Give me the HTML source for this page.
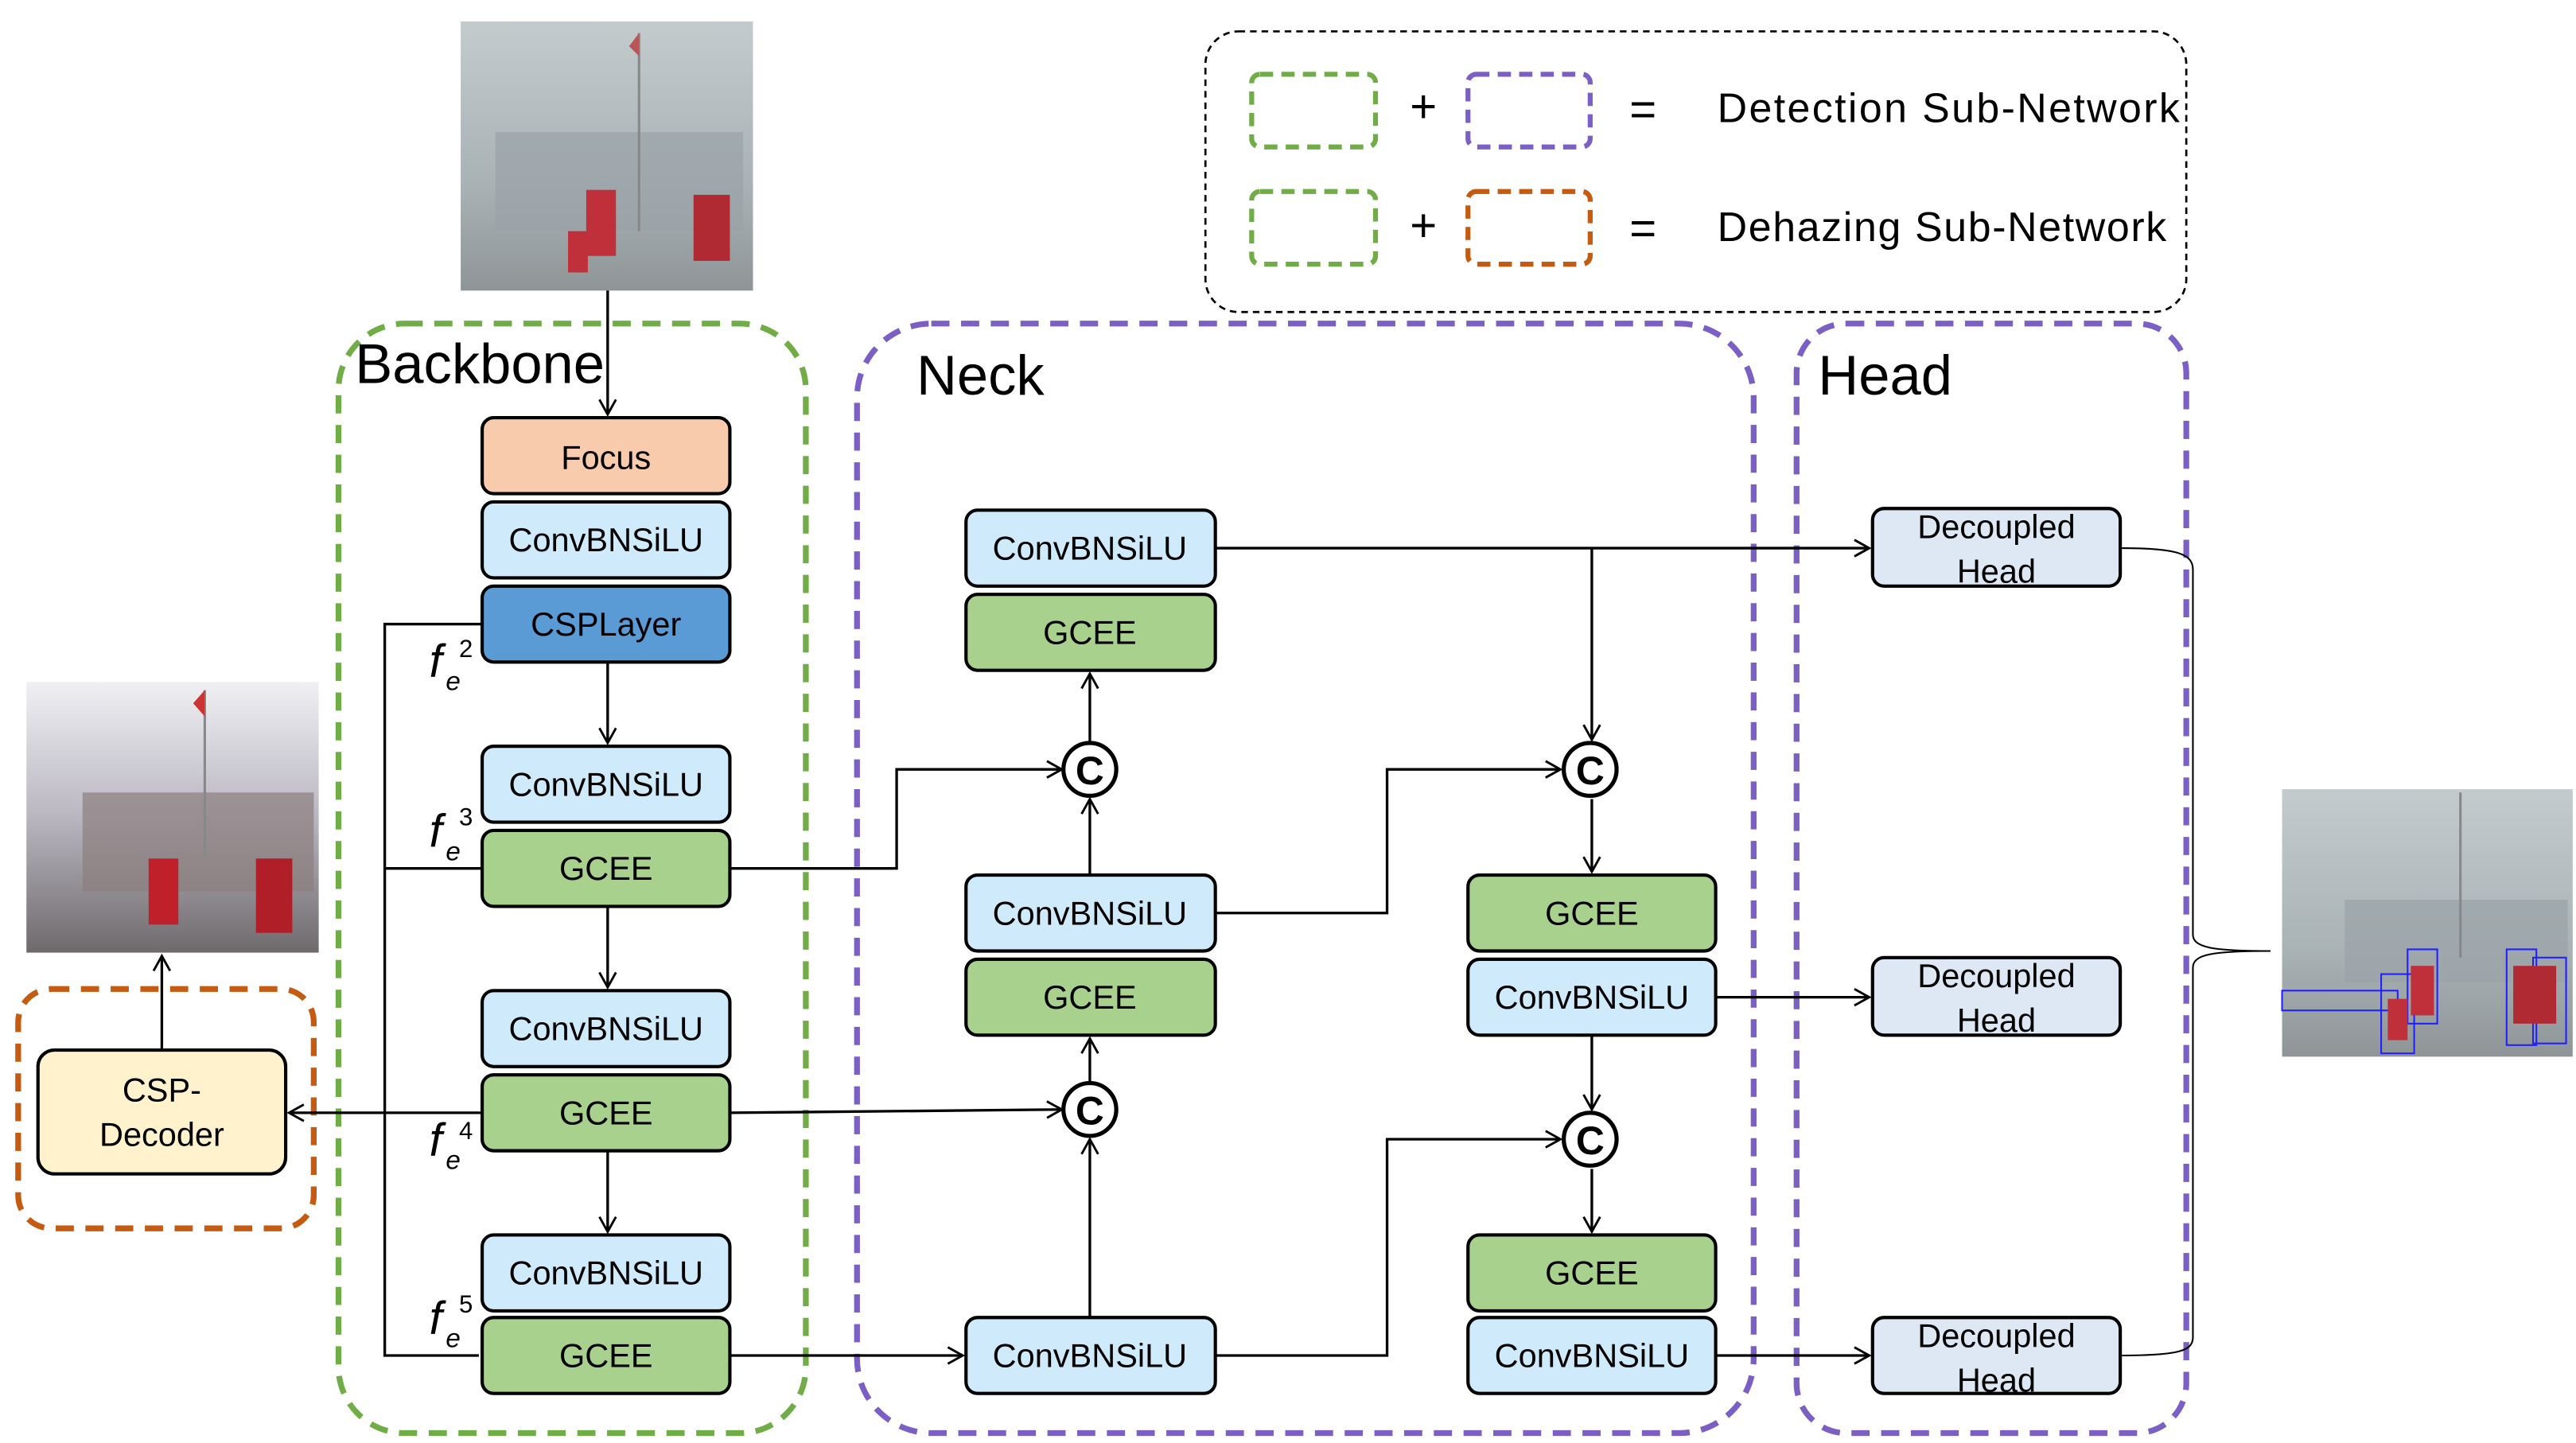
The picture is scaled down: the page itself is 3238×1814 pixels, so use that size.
<!DOCTYPE html>
<html><head><meta charset="utf-8"><style>
html,body{margin:0;padding:0;background:#fff;}
svg{display:block;}
text{font-family:"Liberation Sans",sans-serif;}
</style></head><body>
<svg width="3238" height="1814" viewBox="0 0 1560 874" preserveAspectRatio="none" xmlns="http://www.w3.org/2000/svg">
<defs>
<marker id="a" markerWidth="12" markerHeight="12" refX="10" refY="6" orient="auto" markerUnits="userSpaceOnUse">
<path d="M1,1 L10,6 L1,11" fill="none" stroke="#000" stroke-width="1.4"/></marker>
<linearGradient id="haze" x1="0" y1="0" x2="0" y2="1"><stop offset="0" stop-color="#c3cbcd"/><stop offset="0.6" stop-color="#a9b2b5"/><stop offset="1" stop-color="#8f9597"/></linearGradient>
<linearGradient id="clear" x1="0" y1="0" x2="0" y2="1"><stop offset="0" stop-color="#f0f0f4"/><stop offset="0.5" stop-color="#b9b6c0"/><stop offset="1" stop-color="#6e6a6c"/></linearGradient>
</defs>
<!-- top hazy image -->
<rect x="279" y="13" width="177" height="163" fill="url(#haze)"/>
<rect x="300" y="80" width="150" height="60" fill="#9aa3a6" opacity="0.7"/>
<line x1="387" y1="20" x2="387" y2="140" stroke="#888" stroke-width="1.5"/>
<path d="M387,20 L381,28 L387,34z" fill="#b55"/>
<rect x="355" y="115" width="18" height="40" fill="#c0303a"/><rect x="420" y="118" width="22" height="40" fill="#b02a33"/><rect x="344" y="140" width="12" height="25" fill="#c0303a"/>
<!-- legend -->
<rect x="730" y="19" width="594" height="170" rx="20" fill="none" stroke="#000" stroke-width="1.3" stroke-dasharray="4,3"/>
<g stroke-width="3" fill="none" stroke-dasharray="8,5">
<rect x="758" y="45" width="75" height="44" rx="5" stroke="#70ad47"/>
<rect x="889" y="45" width="74" height="44" rx="5" stroke="#7c5fc4"/>
<rect x="758" y="116" width="75" height="44" rx="5" stroke="#70ad47"/>
<rect x="889" y="116" width="74" height="44" rx="5" stroke="#c55a11"/>
</g>
<g font-size="28" text-anchor="middle" fill="#000"><text x="862" y="74">+</text><text x="862" y="146">+</text><text x="995" y="76">=</text><text x="995" y="148">=</text></g>
<text x="1040" y="74" font-size="25" textLength="280">Detection Sub-Network</text>
<text x="1040" y="146" font-size="25" textLength="272">Dehazing Sub-Network</text>
<!-- containers -->
<g fill="none" stroke-width="3.5" stroke-dasharray="11,7">
<rect x="205" y="196" width="283" height="672" rx="40" stroke="#70ad47"/>
<rect x="519" y="196" width="543" height="672" rx="45" stroke="#7c5fc4"/>
<rect x="1088" y="196" width="236" height="672" rx="30" stroke="#7c5fc4"/>
<rect x="11" y="599" width="179" height="145" rx="20" stroke="#c55a11"/>
</g>
<text x="215" y="232" font-size="34">Backbone</text>
<text x="555" y="239" font-size="34">Neck</text>
<text x="1101" y="239" font-size="34">Head</text>
<!-- connectors -->
<g stroke="#000" stroke-width="1.6" fill="none">
<line x1="368" y1="176" x2="368" y2="251" marker-end="url(#a)"/>
<line x1="368" y1="401" x2="368" y2="450" marker-end="url(#a)"/>
<line x1="368" y1="549" x2="368" y2="598" marker-end="url(#a)"/>
<line x1="368" y1="697" x2="368" y2="746" marker-end="url(#a)"/>
<polyline points="292,378 233,378 233,821 290,821"/>
<line x1="233" y1="526" x2="292" y2="526"/>
<line x1="292" y1="674" x2="175" y2="674" marker-end="url(#a)"/>
<line x1="98" y1="636" x2="98" y2="579" marker-end="url(#a)"/>
<polyline points="442,526 543,526 543,466 643,466" marker-end="url(#a)"/>
<line x1="442" y1="674" x2="643" y2="672" marker-end="url(#a)"/>
<line x1="442" y1="821" x2="583" y2="821" marker-end="url(#a)"/>
<line x1="660" y1="530" x2="660" y2="484" marker-end="url(#a)"/>
<line x1="660" y1="450" x2="660" y2="408" marker-end="url(#a)"/>
<line x1="660" y1="798" x2="660" y2="690" marker-end="url(#a)"/>
<line x1="660" y1="656" x2="660" y2="629" marker-end="url(#a)"/>
<line x1="736" y1="332" x2="1132" y2="332" marker-end="url(#a)"/>
<line x1="964" y1="332" x2="964" y2="448" marker-end="url(#a)"/>
<polyline points="736,553 840,553 840,466 945,466" marker-end="url(#a)"/>
<line x1="964" y1="484" x2="964" y2="528" marker-end="url(#a)"/>
<line x1="1039" y1="604" x2="1132" y2="604" marker-end="url(#a)"/>
<line x1="964" y1="627" x2="964" y2="672" marker-end="url(#a)"/>
<polyline points="736,821 840,821 840,690 945,690" marker-end="url(#a)"/>
<line x1="964" y1="708" x2="964" y2="746" marker-end="url(#a)"/>
<line x1="1039" y1="821" x2="1132" y2="821" marker-end="url(#a)"/>
</g>
<!-- brace -->
<path d="M1285,332 C1320,332 1328,336 1328,345 L1328,566 C1328,574 1340,576 1375,576 C1340,576 1328,578 1328,586 L1328,810 C1328,818 1320,821 1285,821" fill="none" stroke="#000" stroke-width="1"/>
<!-- C circles -->
<g fill="#fff" stroke="#000" stroke-width="2.5">
<circle cx="660" cy="466" r="16"/><circle cx="660" cy="672" r="16"/><circle cx="963" cy="466" r="16"/><circle cx="963" cy="690" r="16"/>
</g>
<g font-size="24" text-anchor="middle" font-weight="bold"><text x="660" y="475">C</text><text x="660" y="681">C</text><text x="963" y="475">C</text><text x="963" y="699">C</text></g>
<!-- blocks -->
<g stroke="#000" stroke-width="2">
<rect x="292" y="253" width="150" height="46" rx="7" fill="#f8cbad"/>
<rect x="292" y="304" width="150" height="46" rx="7" fill="#cfebfb"/>
<rect x="292" y="355" width="150" height="46" rx="7" fill="#5b9bd5"/>
<rect x="292" y="452" width="150" height="46" rx="7" fill="#cfebfb"/>
<rect x="292" y="503" width="150" height="46" rx="7" fill="#a9d18e"/>
<rect x="292" y="600" width="150" height="46" rx="7" fill="#cfebfb"/>
<rect x="292" y="651" width="150" height="46" rx="7" fill="#a9d18e"/>
<rect x="292" y="748" width="150" height="46" rx="7" fill="#cfebfb"/>
<rect x="292" y="798" width="150" height="46" rx="7" fill="#a9d18e"/>
<rect x="585" y="309" width="151" height="46" rx="7" fill="#cfebfb"/>
<rect x="585" y="360" width="151" height="46" rx="7" fill="#a9d18e"/>
<rect x="585" y="530" width="151" height="46" rx="7" fill="#cfebfb"/>
<rect x="585" y="581" width="151" height="46" rx="7" fill="#a9d18e"/>
<rect x="585" y="798" width="151" height="46" rx="7" fill="#cfebfb"/>
<rect x="889" y="530" width="150" height="46" rx="7" fill="#a9d18e"/>
<rect x="889" y="581" width="150" height="46" rx="7" fill="#cfebfb"/>
<rect x="889" y="748" width="150" height="46" rx="7" fill="#a9d18e"/>
<rect x="889" y="798" width="150" height="46" rx="7" fill="#cfebfb"/>
<rect x="1134" y="308" width="150" height="47" rx="7" fill="#dee8f5"/>
<rect x="1134" y="580" width="150" height="47" rx="7" fill="#dee8f5"/>
<rect x="1134" y="798" width="150" height="46" rx="7" fill="#dee8f5"/>
<rect x="23" y="636" width="150" height="75" rx="10" fill="#fff2cc"/>
</g>
<g font-size="20" text-anchor="middle" fill="#000">
<text x="367" y="284">Focus</text>
<text x="367" y="334">ConvBNSiLU</text>
<text x="367" y="385">CSPLayer</text>
<text x="367" y="482">ConvBNSiLU</text>
<text x="367" y="533">GCEE</text>
<text x="367" y="630">ConvBNSiLU</text>
<text x="367" y="681">GCEE</text>
<text x="367" y="778">ConvBNSiLU</text>
<text x="367" y="828">GCEE</text>
<text x="660" y="339">ConvBNSiLU</text>
<text x="660" y="390">GCEE</text>
<text x="660" y="560">ConvBNSiLU</text>
<text x="660" y="611">GCEE</text>
<text x="660" y="828">ConvBNSiLU</text>
<text x="964" y="560">GCEE</text>
<text x="964" y="611">ConvBNSiLU</text>
<text x="964" y="778">GCEE</text>
<text x="964" y="828">ConvBNSiLU</text>
<text x="1209" y="326">Decoupled</text><text x="1209" y="353">Head</text>
<text x="1209" y="598">Decoupled</text><text x="1209" y="625">Head</text>
<text x="1209" y="816">Decoupled</text><text x="1209" y="843">Head</text>
<text x="98" y="667">CSP-</text><text x="98" y="694">Decoder</text>
</g>
<!-- f_e labels -->
<g font-family="Liberation Serif,serif" font-style="italic" fill="#000">
<text x="260" y="410" font-size="28">f</text><text x="270" y="418" font-size="16">e</text><text x="278" y="398" font-size="15" font-style="normal">2</text>
<text x="260" y="513" font-size="28">f</text><text x="270" y="521" font-size="16">e</text><text x="278" y="500" font-size="15" font-style="normal">3</text>
<text x="260" y="700" font-size="28">f</text><text x="270" y="708" font-size="16">e</text><text x="278" y="690" font-size="15" font-style="normal">4</text>
<text x="260" y="808" font-size="28">f</text><text x="270" y="816" font-size="16">e</text><text x="278" y="795" font-size="15" font-style="normal">5</text>
</g>
<!-- dehazed image -->
<rect x="16" y="413" width="177" height="164" fill="url(#clear)"/>
<rect x="50" y="480" width="140" height="60" fill="#8c7f7f" opacity="0.7"/>
<line x1="124" y1="418" x2="124" y2="520" stroke="#888" stroke-width="1.5"/>
<path d="M124,418 L117,426 L124,434z" fill="#c33"/>
<rect x="90" y="520" width="18" height="40" fill="#c0202a"/><rect x="155" y="520" width="22" height="45" fill="#b01e28"/>
<!-- result image -->
<rect x="1382" y="478" width="176" height="162" fill="url(#haze)"/>
<rect x="1420" y="545" width="135" height="50" fill="#9aa3a6" opacity="0.7"/>
<line x1="1490" y1="480" x2="1490" y2="580" stroke="#888" stroke-width="1.5"/>
<g fill="none" stroke="#2020ff" stroke-width="1"><rect x="1382" y="600" width="70" height="12"/><rect x="1442" y="590" width="20" height="48"/><rect x="1458" y="575" width="18" height="45"/><rect x="1518" y="575" width="18" height="58"/><rect x="1534" y="580" width="20" height="52"/></g>
<rect x="1460" y="585" width="14" height="30" fill="#c0303a"/><rect x="1522" y="585" width="26" height="35" fill="#b02a33"/><rect x="1446" y="605" width="12" height="25" fill="#c0303a"/>
</svg>
</body></html>
